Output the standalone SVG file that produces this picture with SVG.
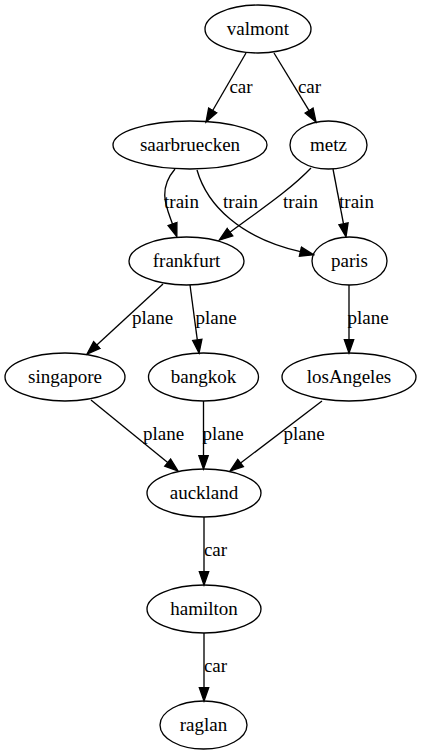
<svg xmlns="http://www.w3.org/2000/svg" width="421" height="755" viewBox="0 0 421 755">
<defs>
<marker id="arr" markerUnits="userSpaceOnUse" viewBox="-1 -6 16 12" markerWidth="16" markerHeight="12" refX="0" refY="0" orient="auto">
<path d="M0,-4.67 L13.33,0 L0,4.67 z" fill="#000" stroke="#000" stroke-width="1.33"/>
</marker>
</defs>
<rect width="421" height="755" fill="#fff"/>
<g id="edges">
<g fill="none" stroke="#000" stroke-width="1.33" marker-end="url(#arr)">
<path d="M246,53 L212.7,110.5"/>
<path d="M274,53 L309.1,110.6"/>
<path d="M175,169 C157,190 167,208 172.5,224"/>
<path d="M197,170 C207,205 240,238 300.4,251.7"/>
<path d="M311,168 C290,190 260,210 230,232.2"/>
<path d="M333,169 L343.5,223.8"/>
<path d="M163,284 L96.8,345"/>
<path d="M190,285 L197.3,339.8"/>
<path d="M349,285 L349,339.7"/>
<path d="M91,400 L167.7,462.6"/>
<path d="M203.5,401 L203.5,455.7"/>
<path d="M322,401 L240.6,463"/>
<path d="M204,517 L204,571.7"/>
<path d="M204,633 L204,687.7"/>
</g>
<text font-family="Liberation Serif" font-size="19" text-anchor="middle" x="241" y="92.6">car</text>
<text font-family="Liberation Serif" font-size="19" text-anchor="middle" x="309.5" y="92.6">car</text>
<text font-family="Liberation Serif" font-size="19" text-anchor="middle" x="181.5" y="208">train</text>
<text font-family="Liberation Serif" font-size="19" text-anchor="middle" x="240.5" y="208">train</text>
<text font-family="Liberation Serif" font-size="19" text-anchor="middle" x="300.5" y="208">train</text>
<text font-family="Liberation Serif" font-size="19" text-anchor="middle" x="356.5" y="208">train</text>
<text font-family="Liberation Serif" font-size="19" text-anchor="middle" x="152.5" y="324">plane</text>
<text font-family="Liberation Serif" font-size="19" text-anchor="middle" x="216" y="324">plane</text>
<text font-family="Liberation Serif" font-size="19" text-anchor="middle" x="368" y="324">plane</text>
<text font-family="Liberation Serif" font-size="19" text-anchor="middle" x="163.5" y="440">plane</text>
<text font-family="Liberation Serif" font-size="19" text-anchor="middle" x="223" y="440">plane</text>
<text font-family="Liberation Serif" font-size="19" text-anchor="middle" x="304" y="440">plane</text>
<text font-family="Liberation Serif" font-size="19" text-anchor="middle" x="215.5" y="556">car</text>
<text font-family="Liberation Serif" font-size="19" text-anchor="middle" x="215.5" y="672">car</text>
</g>
<g id="valmont"><ellipse cx="258" cy="29" rx="53" ry="24" fill="none" stroke="#000" stroke-width="1.33"/><text font-family="Liberation Serif" font-size="19" text-anchor="middle" x="258" y="34.6">valmont</text></g>
<g id="saarbruecken"><ellipse cx="190" cy="145" rx="77" ry="24" fill="none" stroke="#000" stroke-width="1.33"/><text font-family="Liberation Serif" font-size="19" text-anchor="middle" x="190" y="150.6">saarbruecken</text></g>
<g id="metz"><ellipse cx="328.5" cy="145" rx="38.5" ry="24" fill="none" stroke="#000" stroke-width="1.33"/><text font-family="Liberation Serif" font-size="19" text-anchor="middle" x="328.5" y="150.6">metz</text></g>
<g id="frankfurt"><ellipse cx="186.5" cy="261" rx="57.5" ry="24" fill="none" stroke="#000" stroke-width="1.33"/><text font-family="Liberation Serif" font-size="19" text-anchor="middle" x="186.5" y="266.6">frankfurt</text></g>
<g id="paris"><ellipse cx="349.5" cy="261" rx="37.5" ry="24" fill="none" stroke="#000" stroke-width="1.33"/><text font-family="Liberation Serif" font-size="19" text-anchor="middle" x="349.5" y="266.6">paris</text></g>
<g id="singapore"><ellipse cx="65" cy="377" rx="60" ry="24" fill="none" stroke="#000" stroke-width="1.33"/><text font-family="Liberation Serif" font-size="19" text-anchor="middle" x="65" y="382.6">singapore</text></g>
<g id="bangkok"><ellipse cx="203.5" cy="377" rx="55" ry="24" fill="none" stroke="#000" stroke-width="1.33"/><text font-family="Liberation Serif" font-size="19" text-anchor="middle" x="203.5" y="382.6">bangkok</text></g>
<g id="losAngeles"><ellipse cx="349" cy="377" rx="67" ry="24" fill="none" stroke="#000" stroke-width="1.33"/><text font-family="Liberation Serif" font-size="19" text-anchor="middle" x="349" y="382.6">losAngeles</text></g>
<g id="auckland"><ellipse cx="204" cy="493" rx="57" ry="24" fill="none" stroke="#000" stroke-width="1.33"/><text font-family="Liberation Serif" font-size="19" text-anchor="middle" x="204" y="498.6">auckland</text></g>
<g id="hamilton"><ellipse cx="204" cy="609" rx="57" ry="24" fill="none" stroke="#000" stroke-width="1.33"/><text font-family="Liberation Serif" font-size="19" text-anchor="middle" x="204" y="614.6">hamilton</text></g>
<g id="raglan"><ellipse cx="203.5" cy="725" rx="43.5" ry="24" fill="none" stroke="#000" stroke-width="1.33"/><text font-family="Liberation Serif" font-size="19" text-anchor="middle" x="203.5" y="730.6">raglan</text></g>
</svg>
